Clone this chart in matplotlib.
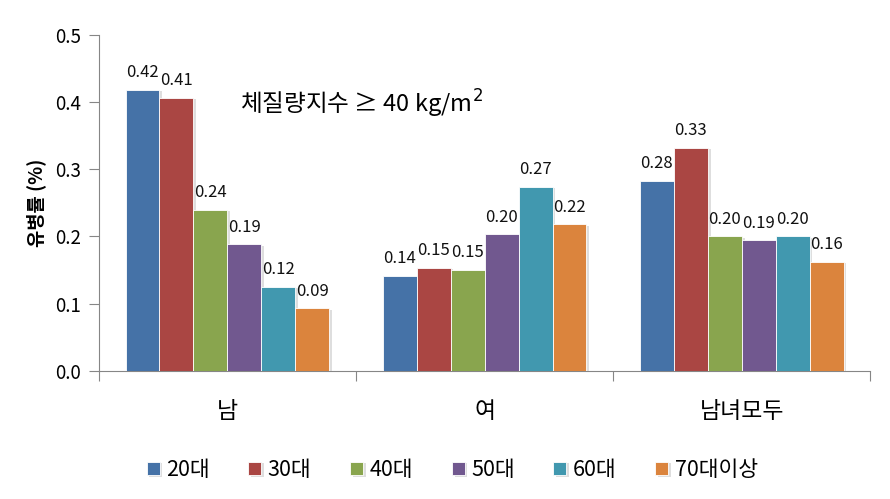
import numpy as np
import matplotlib
matplotlib.use("Agg")
import matplotlib.pyplot as plt
import matplotlib.patheffects as pe

plt.rcParams['font.family'] = ['Noto Sans CJK KR', 'DejaVu Sans']

groups = ["남", "여", "남녀모두"]
series = ["20대", "30대", "40대", "50대", "60대", "70대이상"]
values = {
    "20대": [0.418, 0.141, 0.283],
    "30대": [0.406, 0.153, 0.332],
    "40대": [0.240, 0.150, 0.200],
    "50대": [0.188, 0.203, 0.194],
    "60대": [0.125, 0.274, 0.200],
    "70대이상": [0.093, 0.218, 0.162],
}
colors = ["#4572A7", "#AA4643", "#89A54E", "#71588F", "#4198AF", "#DB843D"]

fig = plt.figure(figsize=(8.9, 4.99), dpi=100)
ax = fig.add_axes([0.111, 0.257, 0.867, 0.673])

x = np.arange(len(groups))
bw = 0.132
shadow = [pe.SimplePatchShadow(offset=(2, -1), shadow_rgbFace="#c8c8c8", alpha=0.6), pe.Normal()]
for i, (name, col) in enumerate(zip(series, colors)):
    pos = x + (i - 2.5) * bw
    bars = ax.bar(pos, values[name], width=bw, color=col, label=name,
                  edgecolor="white", linewidth=0.6, zorder=3)
    for b in bars:
        b.set_path_effects(shadow)
    for px, v in zip(pos, values[name]):
        ax.text(px, v + 0.013, f"{v:.2f}", ha="center", va="bottom",
                fontsize=12, color="#111111")

ax.set_xlim(-0.5, 2.5)
ax.set_ylim(0, 0.5)
ax.set_yticks([0.0, 0.1, 0.2, 0.3, 0.4, 0.5])
ax.set_yticklabels(["0.0", "0.1", "0.2", "0.3", "0.4", "0.5"], fontsize=13.5)
ax.set_xticks([-0.5, 0.5, 1.5, 2.5])
ax.set_xticklabels([])
ax.tick_params(axis="y", direction="out", length=7, color="#868686", pad=6)
ax.tick_params(axis="x", direction="out", length=7, color="#868686")
for s in ["top", "right"]:
    ax.spines[s].set_visible(False)
for s in ["left", "bottom"]:
    ax.spines[s].set_color("#868686")

for gx, g in zip(x, groups):
    ax.text(gx, -0.06, g, ha="center", va="center", fontsize=16.5,
            transform=ax.transData, clip_on=False)

ax.set_ylabel("유병률 (%)", fontsize=13.5, fontweight="bold", labelpad=6)
ax.text(0.183, 0.795, "체질량지수 ≥ 40 kg/m$^{2}$", fontsize=17,
        transform=ax.transAxes, va="center", ha="left")

fig.legend(loc="center", bbox_to_anchor=(0.508, 0.058), ncol=6, frameon=False,
           fontsize=15.5, handlelength=0.6, handleheight=0.6, handletextpad=0.3,
           columnspacing=1.8)

fig.savefig("out.png", dpi=100)
